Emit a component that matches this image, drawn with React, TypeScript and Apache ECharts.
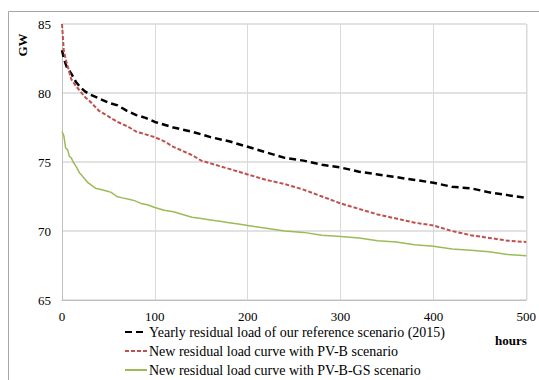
import React, { useEffect, useRef } from "react";
import * as echarts from "echarts";

const refHours = [0, 2, 5, 10, 15, 20, 25, 30, 40, 50, 60, 70, 80, 90, 100, 120, 140, 160, 180, 200, 220, 240, 260, 280, 300, 320, 340, 360, 380, 400, 420, 440, 460, 480, 500];
const refLoad = [83.1, 82.5, 81.9, 81.4, 80.8, 80.4, 80.1, 79.9, 79.6, 79.3, 79.1, 78.7, 78.4, 78.2, 77.9, 77.5, 77.2, 76.8, 76.5, 76.1, 75.7, 75.3, 75.1, 74.8, 74.6, 74.3, 74.1, 73.9, 73.7, 73.5, 73.2, 73.1, 72.8, 72.6, 72.4];

const pvbHours = [0, 2, 5, 10, 15, 20, 25, 30, 40, 50, 60, 70, 80, 90, 100, 110, 120, 130, 140, 150, 160, 180, 200, 220, 240, 260, 280, 300, 320, 340, 360, 380, 400, 420, 440, 460, 480, 500];
const pvbLoad = [85.0, 83.0, 82.2, 81.0, 80.5, 80.1, 79.7, 79.4, 78.7, 78.3, 77.9, 77.6, 77.2, 77.0, 76.8, 76.5, 76.1, 75.8, 75.5, 75.1, 74.9, 74.5, 74.1, 73.7, 73.4, 73.0, 72.5, 72.0, 71.6, 71.2, 70.9, 70.6, 70.4, 70.0, 69.7, 69.5, 69.3, 69.2];

const gsHours = [0, 2, 4, 6, 8, 10, 12, 15, 19, 23, 28, 32, 36, 42, 48, 53, 59, 65, 72, 78, 85, 92, 100, 110, 120, 130, 140, 150, 160, 170, 180, 190, 200, 220, 240, 260, 280, 300, 320, 340, 360, 380, 400, 420, 440, 460, 480, 500];
const gsLoad = [77.2, 76.9, 76.0, 75.9, 75.4, 75.3, 75.0, 74.7, 74.2, 73.9, 73.5, 73.3, 73.1, 73.0, 72.9, 72.8, 72.5, 72.4, 72.3, 72.2, 72.0, 71.9, 71.7, 71.5, 71.4, 71.2, 71.0, 70.9, 70.8, 70.7, 70.6, 70.5, 70.4, 70.2, 70.0, 69.9, 69.7, 69.6, 69.5, 69.3, 69.2, 69.0, 68.9, 68.7, 68.6, 68.5, 68.3, 68.2];

const seriesNames = [
  "Yearly residual load of our reference scenario (2015)",
  "New residual load curve with PV-B scenario",
  "New residual load curve with PV-B-GS scenario",
];

const zip = (xs: number[], ys: number[]) => xs.map((x, i) => [x, ys[i]]);

const FONT = "'Liberation Serif', 'Times New Roman', serif";

export default function App() {
  const ref = useRef<HTMLDivElement>(null);
  useEffect(() => {
    if (!ref.current) return;
    const chart = echarts.init(ref.current, undefined, { renderer: "svg" });
    chart.setOption({
      animation: false,
      backgroundColor: "#ffffff",
      textStyle: { fontFamily: FONT },
      grid: { left: 62, right: 12, top: 24, bottom: 80, containLabel: false },
      xAxis: {
        type: "value",
        min: 0,
        max: 500,
        interval: 100,
        axisLine: { show: true, lineStyle: { color: "#bfbfbf", width: 1 } },
        axisTick: { show: false },
        axisLabel: { color: "#000", fontSize: 13, fontFamily: FONT, margin: 10 },
        splitLine: { show: true, lineStyle: { color: "#d9d9d9", width: 1 } },
      },
      yAxis: {
        type: "value",
        min: 65,
        max: 85,
        interval: 5,
        axisLine: { show: true, lineStyle: { color: "#bfbfbf", width: 1 } },
        axisTick: { show: false },
        axisLabel: { color: "#000", fontSize: 13, fontFamily: FONT, margin: 11 },
        splitLine: { show: true, lineStyle: { color: "#d9d9d9", width: 1.5 } },
      },
      legend: {
        orient: "vertical",
        left: 124,
        top: 325,
        padding: 0,
        itemGap: 5,
        itemWidth: 22,
        itemHeight: 14,
        itemStyle: { opacity: 0 },
        textStyle: { color: "#000", fontSize: 14, fontFamily: FONT, padding: [0, 0, 0, -3] },
        data: seriesNames,
      },
      series: [
        {
          name: seriesNames[0],
          type: "line",
          data: zip(refHours, refLoad),
          symbol: "none",
          lineStyle: { color: "#000000", width: 2.5, type: [7, 4] },
          itemStyle: { color: "#000000" },
        },
        {
          name: seriesNames[1],
          type: "line",
          data: zip(pvbHours, pvbLoad),
          symbol: "none",
          lineStyle: { color: "#c0504d", width: 2, type: [4, 2] },
          itemStyle: { color: "#c0504d" },
        },
        {
          name: seriesNames[2],
          type: "line",
          data: zip(gsHours, gsLoad),
          symbol: "none",
          lineStyle: { color: "#9bbb59", width: 1.5 },
          itemStyle: { color: "#9bbb59" },
        },
      ],
      graphic: [
        {
          type: "polyline",
          shape: { points: [[8.5, 380], [8.5, 11.5], [539, 11.5]] },
          style: { stroke: "#a6a6a6", lineWidth: 1, fill: "none" },
          silent: true,
        },
        {
          type: "line",
          shape: { x1: 527, y1: 24, x2: 527, y2: 300 },
          style: { stroke: "#d9d9d9", lineWidth: 1 },
          silent: true,
        },
        {
          type: "text",
          x: 511,
          y: 340,
          style: {
            text: "hours",
            fontFamily: FONT,
            fontSize: 13,
            fontWeight: "bold",
            fill: "#000",
            align: "center",
            verticalAlign: "middle",
          },
        },
        {
          type: "text",
          x: 22,
          y: 45,
          rotation: Math.PI / 2,
          style: {
            text: "GW",
            fontFamily: FONT,
            fontSize: 13,
            fontWeight: "bold",
            fill: "#000",
            align: "center",
            verticalAlign: "middle",
          },
        },
      ],
    });
    return () => chart.dispose();
  }, []);
  return (
    <div
      ref={ref}
      style={{ position: "fixed", left: 0, top: 0, width: 539, height: 380 }}
    />
  );
}
